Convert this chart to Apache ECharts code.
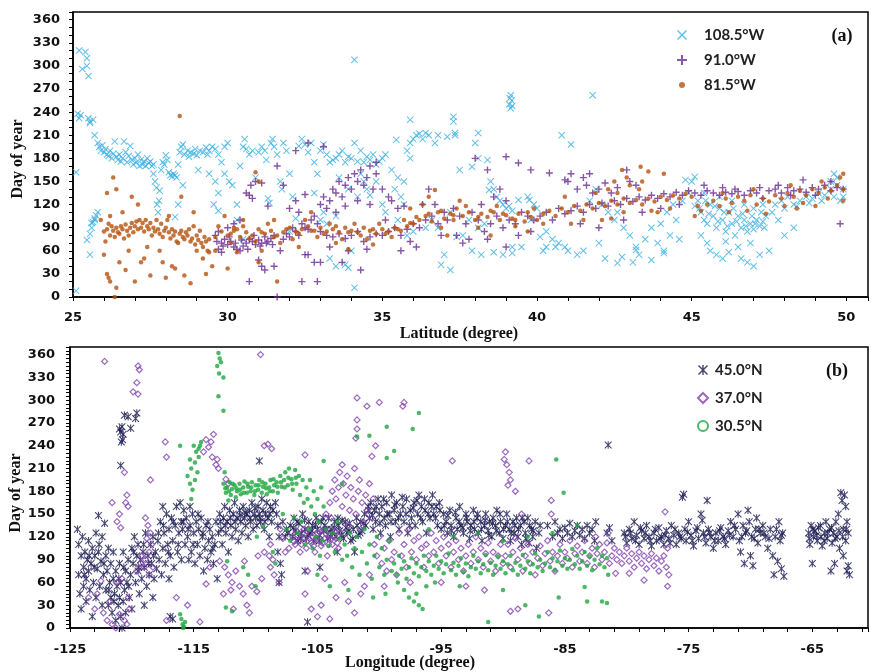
<!DOCTYPE html>
<html>
<head>
<meta charset="utf-8">
<script src="https://cdn.jsdelivr.net/npm/echarts@6/dist/echarts.min.js"></script>
<style>
  html, body { margin: 0; padding: 0; background: #fff; }
  #chart { width: 871px; height: 672px; }
</style>
</head>
<body>
<div id="chart"></div>
<script>
// panel (a): day of year vs latitude, one series per longitude
var latNames = ['108.5°W', '91.0°W', '81.5°W'];
var lonNames = ['45.0°N', '37.0°N', '30.5°N'];

var latW1085 = [
  [25.2,320],[25.4,318],[25.3,296],[25.45,310],[25.45,300],[25.5,287],[25.15,238],[25.2,232],[25.25,236],[25.5,232],[25.55,228],[25.65,230],[25.55,226],[25.7,210],[25.1,162],[25.1,8],
  [25.45,74],[25.55,82],[25.6,90],[25.65,97],[25.7,102],[25.75,106],[25.8,110],[25.55,55],[25.7,100],[25.6,96],
  [25.8,200],[25.85,195],[25.9,190],[25.95,197],[26.0,188],[26.05,192],[26.1,185],[26.15,183],[26.2,190],[26.25,180],[26.3,186],[26.35,202],[26.4,182],[26.45,178],[26.5,185],[26.55,176],[26.6,180],[26.65,202],[26.7,188],[26.75,175],[26.8,183],[26.85,196],[26.9,178],[26.95,172],[27.0,180],[27.05,175],[27.1,185],[27.15,170],[27.2,178],[27.25,172],[27.3,176],[27.35,170],[27.4,180],[27.45,174],[27.5,176],[27.55,170],[27.6,172],
  [27.6,160],[27.65,150],[27.7,142],[27.72,120],[27.75,110],[27.78,125],[27.8,138],[27.85,165],[27.9,175],[27.95,172],[28.0,184],[28.05,178],[28.1,162],[28.15,158],[28.2,156],[28.25,160],[28.3,158],[28.35,155],[28.4,172],[28.4,120],[28.3,104],[28.45,188],[28.5,195],[28.55,198],[28.55,145],
  [28.6,185],[28.7,190],[28.75,182],[28.8,188],[28.9,186],[28.95,192],[29.0,184],[29.1,190],[29.2,188],[29.3,194],[29.35,185],[29.4,190],[29.5,195],[29.6,192],[29.7,185],[29.05,165],[29.4,160],
  [29.6,150],[29.7,135],[29.55,120],[29.7,112],[29.9,195],[29.8,175],[29.9,160],[30.0,200],[30.05,150],[30.15,145],[30.3,120],[30.4,170],[30.5,195],[30.55,205],[30.6,192],[30.7,185],[30.8,190],[30.9,155],[31.0,188],[31.1,195],[31.2,190],[31.25,178],[31.3,128],[31.35,122],[31.4,200],[31.45,205],[31.5,195],[31.6,185],[31.7,150],[31.75,140],[31.8,200],[31.9,190],[32.0,160],[32.1,130],[32.2,102],[32.3,196],[32.4,205],[32.5,198],[32.6,188],[32.7,200],[32.8,175],[32.9,160],[33.0,190],[33.1,198],[33.2,185],[33.3,175],[33.1,110],[33.2,95],
  [33.5,180],[33.6,185],[33.7,190],[33.4,178],[33.8,175],[33.9,182],[34.0,180],[34.1,200],[34.2,176],[34.3,190],[34.4,175],[34.5,182],[34.6,178],[34.7,185],[34.8,172],[34.9,176],[35.0,180],[35.1,185],[34.3,160],[34.4,150],[34.5,140],[34.6,132],[34.8,150],[35.0,120],[35.1,110],[34.2,130],[33.9,140],[33.6,155],[32.8,135],[33.3,50],[33.5,40],[33.8,42],[34.0,60],[33.9,38],[34.1,12],[34.1,308],[33.0,100],[33.5,105],[32.0,85],[30.3,100],[30.5,75],
  [35.3,165],[35.5,155],[35.7,150],[35.8,190],[35.9,200],[36.0,205],[36.1,210],[36.2,212],[36.3,205],[35.9,180],[35.7,120],[35.6,130],[35.4,140],[35.5,100],[35.8,80],[36.0,85],[36.4,90],[36.6,100],[36.5,210],[36.8,210],[37.1,208],[37.3,228],[37.35,210],[37.2,110],[35.9,230],[36.7,200],[35.45,204],
  [37.4,78],[37.9,169],[38.45,139],[39.4,126],[39.75,126],[40.3,65],[40.9,65],[39.2,57],[37.2,35],[37.3,234],[37.35,213],[38.1,213],[36.4,213],
  [37.5,165],[38.0,200],[38.1,180],[38.4,178],[38.5,150],[38.6,140],[38.7,130],[38.8,125],[38.9,120],[39.0,115],[39.1,118],[39.2,112],[38.3,95],[38.1,90],[37.8,100],[37.6,80],[37.9,60],[38.2,55],[38.6,58],[38.9,55],[39.2,65],[39.5,65],[39.7,130],[39.9,120],[40.0,115],[39.8,100],[40.1,78],[40.2,60],[39.1,250],[39.12,258],[39.15,262],[39.18,255],[39.2,248],[39.15,245],[37.0,55],[36.9,42],[36.8,90],
  [40.3,85],[40.5,75],[40.7,70],[40.6,65],[40.8,210],[41.1,198],[41.0,60],[41.3,55],[41.5,60],[41.8,262],[41.7,125],[41.9,140],[42.1,120],[42.3,110],[42.5,100],[42.6,110],[42.8,90],[43.0,80],[43.2,65],[43.3,55],[43.5,75],[43.7,90],[43.9,70],[44.0,95],[44.2,110],[44.4,120],[44.5,100],[44.7,125],[44.9,135],[45.0,150],[42.2,50],[42.0,70],[43.1,45],[44.1,60],[44.6,75],[44.3,80],
  [42.6,44],[42.75,52],[43.2,61],[43.7,48],[44.1,57],[44.8,152],[45.1,156],
  [45.2,125],[45.3,110],[45.4,100],[45.5,95],[45.6,120],[45.7,105],[45.8,90],[45.9,115],[46.0,100],[46.1,85],[46.2,110],[46.3,95],[46.4,80],[46.5,105],[46.6,90],[46.7,100],[46.8,85],[46.9,95],[47.0,88],[47.1,100],[47.2,92],[47.3,98],[47.4,105],[45.3,80],[45.5,70],[45.6,60],[45.8,55],[46.0,50],[46.2,58],[46.5,65],[46.6,50],[46.8,45],[47.0,40],[47.2,55],[47.5,60],[45.9,130],[46.3,125],[46.7,120],[47.0,115],[47.3,120],[45.4,135],[45.1,118],[46.1,72],[46.9,70],[47.6,110],[47.8,100],[48.0,80],[48.3,90],
  [45.25,115],[45.55,108],[45.85,98],[46.15,92],[46.45,98],[46.75,92],[47.05,95],[47.35,90],[45.45,125],[45.75,118],[46.05,110],[46.35,115],[46.65,108],[46.95,105],[47.25,110],
  [47.7,120],[47.9,125],[48.1,130],[48.3,120],[48.5,125],[48.7,130],[48.9,128],[49.1,135],[49.3,132],[49.5,140],[49.7,145],[49.9,140],[48.0,115],[48.4,118],[48.8,122],[49.2,125],[49.6,130],[49.8,125],[49.5,150],[49.6,160],[49.7,155],[49.9,130]
];

var latW910 = [
  [29.6,80],[29.7,85],[29.8,70],[29.9,75],[30.0,68],[30.1,72],[30.2,65],[30.3,62],[30.4,60],[30.5,66],[30.6,70],[30.7,75],[30.8,72],[30.9,68],[31.0,74],[31.1,70],[31.2,78],[31.3,72],[31.4,76],[31.5,80],[29.7,62],[29.8,58],[30.0,90],[30.2,95],[30.4,100],[30.6,135],[30.7,132],[30.8,128],[30.75,145],[30.9,150],[31.1,148],[31.3,118],[31.0,48],[31.1,40],[31.2,35],[30.7,20],[31.6,0],[31.5,40],
  [29.65,72],[29.85,66],[30.05,78],[30.25,70],[30.45,74],[30.65,62],[30.85,80],[31.05,66],[31.25,70],[31.45,68],
  [31.7,60],[31.8,75],[31.9,82],[32.0,78],[32.1,90],[32.2,85],[32.3,80],[32.4,95],[32.5,90],[32.6,88],[32.7,100],[32.8,105],[32.9,95],[32.0,115],[32.2,125],[32.3,110],[31.8,145],[32.5,133],[32.6,200],[32.4,20],[32.9,20],[32.2,190],[31.6,170],[32.8,45],[32.5,55],
  [33.0,120],[33.1,130],[33.2,115],[33.3,125],[33.4,140],[33.5,135],[33.6,150],[33.7,130],[33.8,145],[33.9,155],[34.0,140],[34.1,160],[34.2,150],[34.3,165],[34.4,145],[34.5,155],[34.6,170],[34.7,140],[34.8,160],[33.5,110],[33.8,118],[34.2,125],[34.6,120],[33.1,195],[34.8,175],[35.0,140],[35.2,130],
  [33.0,85],[33.2,80],[33.4,78],[33.6,82],[33.8,76],[34.0,80],[34.2,85],[34.4,72],[34.6,78],[34.8,82],[35.0,80],[33.3,65],[33.9,60],[34.5,62],[33.7,45],[34.3,35],[32.6,55],[33.0,45],
  [35.2,85],[35.4,90],[35.6,80],[35.8,88],[36.0,95],[36.2,90],[36.4,100],[36.6,105],[36.8,95],[37.0,110],[35.3,125],[35.5,115],[35.7,118],[35.9,72],[36.1,65],[36.3,120],[36.5,140],[36.7,120],[36.9,80],[35.1,100],[35.6,60],
  [37.1,100],[37.3,115],[37.5,105],[37.7,95],[37.9,110],[38.1,100],[38.3,85],[38.5,95],[38.7,105],[38.9,90],[39.1,100],[39.3,95],[39.5,110],[39.7,105],[39.9,100],[37.4,80],[37.8,75],[38.2,120],[38.6,130],[39.0,125],[39.4,80],[39.8,85],[38.0,180],[38.4,165],[38.8,140],[39.0,182],[39.4,174],[39.8,165],[40.4,161],[40.9,152],[41.0,150],[41.1,160],[41.3,140],[41.5,155],[41.6,145],[41.7,160],[41.8,135],[37.6,70],[39.0,65],[38.4,75],
  [40.1,105],[40.3,110],[40.5,100],[40.7,115],[40.9,108],[41.1,112],[41.3,118],[41.5,110],[41.7,120],[41.9,115],[42.1,122],[42.3,118],[42.5,125],[42.7,120],[42.9,128],[43.1,124],[43.3,130],[43.5,126],[43.7,132],[43.9,128],[44.1,134],[44.3,130],[44.5,136],[44.7,132],[44.9,138],[42.0,140],[42.2,148],[42.4,135],[42.6,142],[43.0,150],[43.2,145],[42.8,100],[43.4,110],[44.0,115],[44.6,120],[42.9,165],[41.4,95],[42.0,90],
  [45.1,135],[45.3,132],[45.5,138],[45.7,135],[45.9,132],[46.1,136],[46.3,134],[46.5,137],[46.7,132],[46.9,138],[47.1,135],[47.3,128],[47.5,138],[47.7,140],[47.9,135],[48.1,142],[48.3,138],[48.5,140],[48.7,136],[48.9,142],[49.1,140],[49.3,145],[49.5,138],[49.7,142],[49.9,140],[46.4,140],[47.2,142],[48.2,132],[49.0,132],[49.8,95],[45.4,145],[46.0,142],[48.6,152],[49.5,150],[47.8,145]
];

var latW815 = [
  [25.9,100],[26.0,85],[26.05,72],[26.1,88],[26.15,95],[26.2,80],[26.25,92],[26.3,86],[26.35,78],[26.4,90],[26.45,84],[26.5,82],[26.55,92],[26.6,88],[26.65,76],[26.7,94],[26.75,86],[26.8,80],[26.85,90],[26.9,96],[26.95,84],[27.0,92],[27.05,98],[27.1,88],[27.15,100],[27.2,90],[27.25,96],[27.3,85],[27.35,100],[27.4,92],[27.45,88],[27.5,96],[27.55,80],[27.6,90],[27.65,85],[27.7,100],[27.75,88],[27.8,82],[27.85,95],[27.9,78],[27.95,86],[28.0,90],[28.05,100],[28.1,84],[28.15,76],[28.2,88],[28.25,80],[28.3,85],[28.35,72],[28.4,70],[28.45,82],[28.5,86],[28.55,78],[28.6,75],[28.65,84],[28.7,80],[28.75,88],[28.8,72],[28.85,76],[28.9,92],[28.95,68],[29.0,80],[29.05,74],[29.1,86],[29.15,70],[29.2,65],[29.25,78],[29.3,72],[29.35,60],[29.4,75],
  [26.0,55],[26.1,135],[26.2,105],[26.3,155],[26.4,140],[26.1,30],[26.15,25],[26.2,20],[26.4,12],[26.35,0],[26.6,110],[26.9,130],[26.8,60],[27.0,20],[27.2,45],[27.3,50],[27.5,28],[27.4,65],[27.8,60],[27.9,45],[28.0,25],[28.2,40],[28.3,37],[28.1,105],[28.6,28],[28.8,18],[29.0,60],[29.2,50],[29.4,58],[28.45,235],[28.5,130],[28.9,110],[27.1,120],[26.5,45],[26.7,35],[29.3,30],[29.6,60],[29.5,40],[30.0,37],[30.2,90],[30.5,100],[30.9,162],[31.0,150],[31.6,20],[31.0,45],
  [29.6,78],[29.8,85],[30.0,80],[30.2,86],[30.4,78],[30.6,84],[30.8,80],[31.0,88],[31.2,82],[31.4,86],[31.6,80],[31.8,84],[32.0,90],[32.2,85],[32.4,88],[32.6,92],[32.8,86],[33.0,90],[33.2,85],[33.4,88],[33.6,84],[33.8,90],[34.0,86],[34.2,84],[34.4,90],[34.6,86],[34.8,82],[35.0,88],[35.2,85],[35.4,90],[35.6,86],[35.8,92],[29.7,92],[30.1,70],[30.5,92],[30.9,72],[31.3,95],[31.7,70],[32.1,75],[32.5,100],[32.9,78],[33.3,95],[33.7,75],[34.1,95],[34.5,75],[34.9,95],[35.3,78],[35.7,100],[29.9,105],[31.1,60],[32.3,65],[33.5,70],[34.7,68],[33.9,62],[32.7,110],[31.5,100],[30.3,58],
  [30.1,82],[30.3,88],[30.7,76],[31.1,84],[31.5,78],[31.9,88],[32.3,82],[32.7,86],[33.1,82],[33.5,92],[33.9,84],[34.3,80],[34.7,88],[35.1,82],[35.5,88],[35.9,96],
  [36.0,95],[36.2,100],[36.4,105],[36.6,98],[36.8,110],[37.0,102],[37.2,108],[37.4,115],[37.6,105],[37.8,110],[38.0,100],[38.2,108],[38.4,104],[38.6,110],[38.8,100],[39.0,106],[39.2,102],[39.4,108],[39.6,98],[39.8,104],[40.0,100],[36.3,120],[36.9,90],[37.5,125],[38.1,90],[38.7,118],[39.3,92],[39.9,115],[37.1,80],[35.9,115],[36.5,130],[36.7,139],[40.2,95],[38.5,80],[39.7,85],[37.3,100],
  [36.1,104],[36.5,108],[36.9,112],[37.3,106],[37.7,118],[38.1,104],[38.5,112],[38.9,108],[39.3,100],[39.7,110],
  [40.2,108],[40.4,112],[40.6,105],[40.8,115],[41.0,110],[41.2,118],[41.4,112],[41.6,120],[41.8,115],[42.0,122],[42.2,118],[42.4,125],[42.6,120],[42.8,128],[43.0,122],[43.2,126],[43.4,120],[43.6,128],[43.8,124],[44.0,130],[44.2,126],[44.4,132],[44.6,128],[44.8,134],[45.0,130],
  [42.3,140],[42.5,150],[42.75,165],[42.9,155],[43.35,169],[43.0,145],[43.4,150],[43.6,163],[42.6,135],[43.3,140],[41.1,95],[41.5,100],[42.1,100],[43.9,110],[44.3,115],[42.8,110],[43.7,112],[40.9,130],[41.9,135],[45.1,105],[45.3,112],[45.2,118],[42.4,102],[44.1,160],
  [45.5,120],[45.7,125],[45.9,118],[46.1,128],[46.3,122],[46.5,130],[46.7,125],[46.9,132],[47.1,120],[47.3,128],[47.5,124],[47.7,132],[47.9,128],[48.1,135],[48.3,130],[48.5,138],[48.7,132],[48.9,140],[49.1,135],[49.3,142],[49.5,138],[49.7,145],[49.9,140],[46.2,110],[46.8,112],[47.4,108],[48.0,118],[48.6,122],[49.2,150],[49.8,155],[49.4,128],[47.0,140],[48.2,145],[46.0,135],[49.0,118],[48.4,115],[49.9,160],[49.9,125]
];

// panel (b): day of year vs longitude, one series per latitude
var lonN450 = [
  [-124.4,130],[-124.3,110],[-124.3,70],[-124.2,45],[-124.1,95],[-124.1,25],[-124.0,120],[-123.9,80],[-123.9,55],[-123.8,100],[-123.7,65],[-123.7,35],[-123.6,90],[-123.5,75],[-123.5,115],[-123.4,50],[-123.3,85],[-123.2,15],[-123.2,105],[-123.1,60],[-123.0,95],[-122.9,40],[-122.9,125],[-122.8,78],[-122.7,148],[-122.7,100],[-122.6,55],[-122.5,88],[-122.4,30],[-122.4,120],[-122.3,70],[-122.2,138],[-122.1,95],[-122.1,50],[-122.0,75],[-121.9,105],[-121.9,30],
  [-121.8,60],[-121.7,85],[-121.7,40],[-121.6,20],[-121.5,65],[-121.5,100],[-121.4,45],[-121.3,75],[-121.3,10],[-121.2,55],[-121.1,30],[-121.0,85],[-121.0,40],[-120.9,15],[-120.9,60],[-120.8,0],[-120.7,35],[-120.7,100],[-120.6,50],[-120.5,75],[-120.5,20],[-120.4,60],[-120.3,90],[-120.2,40],[-120.1,70],[-120.0,105],[-120.0,25],
  [-121.0,262],[-120.9,258],[-120.8,265],[-120.7,255],[-120.85,245],[-120.6,280],[-120.3,278],[-120.1,263],[-119.6,283],[-119.7,276],[-120.9,214],[-120.75,248],
  [-119.9,85],[-119.8,120],[-119.7,60],[-119.6,95],[-119.5,75],[-119.5,110],[-119.4,45],[-119.3,90],[-119.2,65],[-119.1,100],[-119.0,30],[-119.0,80],[-118.9,125],[-118.8,55],[-118.7,95],[-118.6,70],[-118.5,110],[-118.4,85],[-118.3,40],[-118.3,120],[-118.2,65],[-118.1,100],[-118.0,78],
  [-117.9,115],[-117.8,90],[-117.7,140],[-117.6,70],[-117.5,160],[-117.5,105],[-117.4,125],[-117.3,85],[-117.2,150],[-117.1,110],[-117.0,65],[-117.0,130],[-116.9,95],[-116.8,145],[-116.7,115],[-116.6,80],[-116.5,135],[-116.4,160],[-116.3,100],[-116.2,125],[-116.1,165],[-116.0,140],[-116.0,90],[-116.9,15],[-116.7,12],
  [-115.9,130],[-115.8,155],[-115.7,110],[-115.6,145],[-115.5,120],[-115.4,90],[-115.3,160],[-115.3,135],[-115.2,100],[-115.1,150],[-115.0,125],[-114.9,85],[-114.8,140],[-114.7,110],[-114.6,130],[-114.5,95],[-114.4,145],[-114.3,120],[-114.2,75],[-114.1,105],[-114.0,135],[-113.9,90],[-113.8,115],[-113.7,130],[-113.6,100],[-113.5,120],[-113.4,85],[-113.3,110],[-113.2,140],[-113.1,65],[-113.0,125],
  [-123.85,70],[-123.45,95],[-123.05,80],[-122.65,110],[-122.25,85],[-121.85,50],[-121.45,35],[-121.05,65],[-120.65,80],[-120.25,55],[-119.85,100],[-119.45,80],[-119.05,110],[-118.65,85],[-118.25,95],[-117.85,125],[-117.45,135],[-117.05,100],[-116.65,140],[-116.25,110],[-115.85,140],[-115.45,130],[-115.05,110],[-114.65,150],[-114.25,125],[-113.85,140],[-113.45,105],
  [-112.9,150],[-112.8,130],[-112.7,110],[-112.6,145],[-112.5,160],[-112.4,125],[-112.3,140],[-112.2,100],[-112.1,155],[-112.0,135],[-111.9,120],[-111.8,150],[-111.7,165],[-111.6,130],[-111.5,145],[-111.4,115],[-111.3,155],[-111.2,140],[-111.1,125],[-111.0,160],[-110.9,145],[-110.8,135],[-110.7,150],[-110.6,120],[-110.5,155],[-110.4,140],[-110.3,165],[-110.2,130],[-110.1,150],[-110.0,145],[-109.9,135],[-109.8,160],[-109.7,150],[-109.7,220],[-109.6,140],[-109.5,170],[-109.4,155],[-109.3,130],[-109.2,150],[-109.1,165],[-109.0,145],[-108.9,120],[-108.8,160],[-108.7,140],[-108.6,155],
  [-112.85,140],[-112.45,135],[-112.05,145],[-111.65,140],[-111.25,148],[-110.85,152],[-110.45,145],[-110.05,158],[-109.65,145],[-109.25,140],[-108.85,150],
  [-108.4,165],[-108.3,150],[-108.2,135],[-108.1,120],[-108.2,100],[-108.0,85],[-107.9,70],[-108.1,60],[-107.8,140],[-107.6,120],[-107.5,130],[-107.4,125],[-105.8,8],
  [-107.2,135],[-107.0,120],[-106.9,145],[-106.8,128],[-106.6,115],[-106.5,138],[-106.3,125],[-106.2,150],[-106.0,130],[-105.9,118],[-105.7,140],[-105.6,125],[-105.4,135],[-105.3,115],[-105.1,145],[-105.0,130],[-104.8,122],[-104.7,140],[-104.5,128],[-104.4,135],[-104.2,118],[-104.1,145],[-103.9,130],[-103.8,125],[-103.6,140],[-103.5,120],[-103.3,135],[-103.2,128],[-103.0,142],[-102.9,118],[-102.7,132],[-102.6,125],[-102.4,138],[-102.3,115],[-102.1,130],[-102.0,100],[-101.8,135],[-101.7,122],[-101.5,140],[-101.4,128],[-101.2,150],[-101.1,135],[-100.9,160],[-104.8,80],[-106.0,75],[-103.4,100],
  [-106.95,132],[-106.65,140],[-106.35,118],[-106.05,142],[-105.75,122],[-105.45,128],[-105.15,136],[-104.85,115],[-104.55,145],[-104.25,130],[-103.95,120],[-103.65,132],[-103.35,145],[-103.05,122],[-102.75,140],[-102.45,128],[-102.15,118],[-101.85,145],[-101.55,125],[-101.25,138],
  [-100.8,145],[-100.7,165],[-100.5,130],[-100.4,155],[-100.3,140],[-100.1,170],[-100.0,150],[-99.9,125],[-99.8,160],[-99.6,145],[-99.5,135],[-99.4,165],[-99.2,150],[-99.1,120],[-99.0,175],[-98.8,155],[-98.7,140],[-98.6,165],[-98.4,130],[-98.3,150],[-98.1,160],[-98.0,140],[-97.8,170],[-97.7,125],[-97.5,155],[-97.4,145],[-97.2,165],[-97.1,135],[-96.9,150],[-96.8,175],[-96.6,160],[-96.5,140],[-96.3,155],[-96.2,125],[-96.0,165],[-95.9,145],[-95.7,175],[-95.6,150],[-95.4,160],[-95.3,135],[-95.1,155],[-95.0,130],[-94.8,150],
  [-100.85,155],[-100.55,148],[-100.25,160],[-99.95,138],[-99.65,170],[-99.35,150],[-99.05,140],[-98.75,162],[-98.45,145],[-98.15,172],[-97.85,150],[-97.55,135],[-97.25,158],[-96.95,168],[-96.65,145],[-96.35,170],[-96.05,150],[-95.75,160],[-95.45,145],[-95.15,165],
  [-94.6,140],[-94.5,125],[-94.3,155],[-94.2,135],[-94.0,120],[-93.8,145],[-93.7,130],[-93.5,160],[-93.4,135],[-93.2,125],[-93.0,150],[-92.9,140],[-92.7,118],[-92.6,135],[-92.4,155],[-92.3,130],[-92.1,145],[-92.0,125],[-91.8,140],[-91.7,115],[-91.5,135],[-91.4,150],[-91.2,128],[-91.1,140],[-90.9,120],[-90.8,145],[-90.6,135],[-90.5,155],[-90.3,125],[-90.2,140],[-90.0,118],[-89.8,135],[-89.7,150],[-89.5,130],[-89.4,115],[-89.2,140],[-89.1,125],[-88.9,145],[-88.8,120],[-88.6,135],[-88.5,110],[-88.3,140],[-88.2,125],[-88.0,145],[-87.9,112],[-87.7,130],[-87.6,120],[-87.4,140],[-87.3,105],[-87.1,125],[-87.0,135],
  [-94.75,135],[-94.45,148],[-94.15,128],[-93.85,152],[-93.55,140],[-93.25,132],[-92.95,145],[-92.65,128],[-92.35,140],[-92.05,150],[-91.75,130],[-91.45,142],[-91.15,122],[-90.85,138],[-90.55,128],[-90.25,150],[-89.95,130],[-89.65,140],[-89.35,125],[-89.05,135],[-88.75,130],[-88.45,145],[-88.15,118],[-87.85,135],[-87.55,128],
  [-86.4,135],[-86.0,120],[-85.8,140],[-85.6,125],[-85.4,130],[-85.2,118],[-85.0,132],[-84.8,125],[-84.6,138],[-84.4,120],[-84.2,128],[-84.0,135],[-83.8,122],[-83.6,130],[-83.4,118],[-83.2,135],[-83.0,125],[-82.8,130],[-82.6,115],[-82.5,140],[-81.5,241],[-81.6,125],[-81.4,132],[-81.2,115],
  [-80.2,125],[-80.0,112],[-79.8,130],[-79.6,118],[-79.4,140],[-79.2,122],[-79.0,110],[-78.8,128],[-78.6,118],[-78.4,135],[-78.2,120],[-78.0,108],[-77.8,125],[-77.6,115],[-77.4,132],[-77.2,120],[-77.0,110],[-76.8,128],[-76.6,118],[-76.4,135],[-76.2,122],[-76.0,110],[-75.8,125],[-75.6,118],[-75.5,172],[-75.4,176],[-75.3,130],[-75.2,115],[-75.0,140],[-74.8,122],[-74.6,108],[-74.4,128],[-74.2,118],[-74.0,150],[-73.9,142],[-73.8,125],[-73.6,112],[-73.5,168],[-73.4,130],[-73.2,120],[-73.0,105],[-72.8,125],[-72.6,115],[-72.4,132],[-72.2,120],[-72.0,110],[-71.8,128],[-71.6,140],[-71.4,120],[-71.2,130],[-71.0,150],[-70.9,115],[-70.8,100],[-70.6,135],[-70.5,85],[-70.4,125],[-70.2,155],[-70.1,140],[-70.0,95],[-69.9,120],[-69.8,82],[-69.6,130],[-69.5,145],[-69.4,112],[-69.2,125],[-69.0,135],[-68.8,120],[-68.6,105],[-68.4,130],[-68.2,95],[-68.1,70],[-68.0,120],[-67.8,88],[-67.7,140],[-67.6,115],[-67.5,78],[-67.4,125],[-67.3,68],
  [-80.1,120],[-79.7,125],[-79.3,115],[-78.9,132],[-78.5,125],[-78.1,115],[-77.7,130],[-77.3,118],[-76.9,122],[-76.5,112],[-76.1,130],[-75.7,120],[-75.1,126],[-74.7,115],[-74.3,132],[-73.7,120],[-73.3,125],[-72.9,115],[-72.5,128],[-72.1,118],[-71.7,122],[-71.3,135],[-70.7,120],[-70.3,128],[-69.7,118],[-69.3,130],[-68.9,125],[-68.5,118],[-67.9,130],[-67.5,122],
  [-65.3,125],[-65.2,110],[-65.1,135],[-65.0,85],[-64.9,120],[-64.8,128],[-64.6,115],[-64.5,132],[-64.3,120],[-64.2,108],[-64.0,125],[-63.9,140],[-63.8,118],[-63.6,130],[-63.5,75],[-63.4,112],[-63.3,125],[-63.2,85],[-63.1,140],[-63.0,120],[-62.9,150],[-62.8,105],[-62.7,178],[-62.6,168],[-62.5,130],[-62.5,95],[-62.4,175],[-62.3,160],[-62.3,115],[-62.2,140],[-62.2,75],[-62.1,125],[-62.1,82],[-62.0,70],
  [-65.25,118],[-64.95,130],[-64.65,122],[-64.35,135],[-64.05,115],[-63.75,125],[-63.45,132],[-63.15,118],[-62.85,128],[-62.55,120],[-62.25,130]
];

var lonN370 = [
  [-122.2,351],[-119.5,345],[-119.4,340],[-119.9,311],[-119.5,308],[-119.6,323],[-120.6,205],[-120.4,175],[-120.5,165],[-120.3,160],[-121.0,150],[-121.2,140],[-120.9,132],[-121.6,165],[-118.5,195],
  [-118.9,145],[-118.7,135],[-118.5,125],[-118.8,118],[-118.4,110],[-118.6,100],[-118.9,90],[-118.3,80],[-118.6,70],
  [-122.3,20],[-122.0,10],[-121.6,5],[-121.3,0],[-121.0,18],[-120.6,10],[-120.4,5],[-120.2,25],[-121.8,35],[-121.2,60],[-120.8,65],[-120.3,40],[-122.5,62],[-122.8,45],[-123.5,40],[-123.0,25],[-119.6,75],[-119.3,85],[-119.0,80],[-119.2,95],
  [-117.3,245],[-117.2,225],[-116.4,40],[-117.2,10],[-115.5,30],[-114.5,8],[-114.0,58],[-113.7,80],
  [-114.0,248],[-113.6,245],[-113.4,255],[-113.8,238],[-114.2,232],[-113.5,225],[-113.2,215],[-113.0,210],[-113.1,222],[-112.4,196],[-112.2,190],
  [-112.9,88],[-112.5,80],[-112.2,70],[-111.9,60],[-111.6,75],[-111.3,55],[-111.0,45],[-110.7,30],[-110.5,20],[-111.8,25],[-112.6,45],[-112.0,50],[-110.3,55],[-109.9,48],[-109.5,65],[-110.9,88],[-109.8,95],[-109.3,100],[-108.8,80],[-108.5,70],[-108.1,60],[-108.6,90],
  [-109.6,360],[-109.3,240],[-109.0,242],[-108.7,236],[-108.8,110],[-108.9,95],
  [-107.0,120],[-106.8,110],[-106.7,128],[-106.5,115],[-106.4,100],[-106.2,125],[-106.0,118],[-105.9,105],[-105.7,130],[-105.5,112],[-105.4,120],[-105.2,100],[-105.0,125],[-104.9,115],[-104.7,108],[-104.5,130],[-104.4,118],[-104.2,95],[-104.0,122],[-103.8,110],[-103.6,128],[-103.5,118],[-103.3,105],[-103.1,125],[-107.3,105],[-108.0,130],[-107.8,118],[-107.6,100],
  [-106.9,114],[-106.6,122],[-106.3,110],[-106.1,130],[-105.8,115],[-105.6,124],[-105.3,108],[-105.1,118],[-104.8,126],[-104.6,112],[-104.3,124],[-104.1,110],[-103.9,118],[-103.7,122],[-103.4,112],
  [-104.0,165],[-103.8,180],[-103.6,195],[-103.5,170],[-103.3,185],[-103.2,205],[-103.0,160],[-102.9,190],[-102.7,175],[-102.6,200],[-102.4,155],[-102.3,185],[-102.1,170],[-102.0,210],[-101.9,150],[-101.7,180],[-101.6,195],[-101.4,165],[-101.3,140],[-101.1,175],[-101.0,155],[-100.8,190],[-100.6,145],[-100.5,170],[-103.9,145],[-102.5,135],[-101.5,130],[-104.3,150],[-103.0,215],
  [-101.8,303],[-101.0,292],[-100.0,297],[-101.8,274],[-101.8,262],[-101.9,250],[-98.0,297],[-98.1,292],[-94.1,220],[-106.0,228],[-100.6,226],[-100.3,240],
  [-100.4,110],[-100.2,95],[-100.0,120],[-99.8,85],[-99.6,105],[-99.4,75],[-99.2,115],[-99.0,90],[-98.8,100],[-98.6,70],[-98.4,125],[-98.2,95],[-98.0,110],[-97.8,80],[-97.6,130],[-97.4,100],[-97.2,115],[-97.0,90],[-96.8,120],[-96.6,105],[-96.4,80],[-96.2,110],[-96.0,95],[-95.8,125],[-95.6,100],[-95.4,115],[-95.2,85],[-95.0,105],[-94.8,120],[-94.6,95],[-94.4,110],[-94.2,80],[-94.0,100],[-93.8,115],[-93.6,90],[-93.4,105],[-93.2,75],[-93.0,95],[-92.8,110],[-92.6,85],[-92.4,100],[-92.2,120],[-92.0,90],[-91.8,105],[-91.6,80],[-91.4,98],[-91.2,112],[-91.0,88],[-90.8,100],[-90.6,75],[-90.4,95],[-90.2,110],[-90.0,85],
  [-106.0,45],[-105.5,25],[-105.0,15],[-104.7,30],[-104.0,12],[-103.5,40],[-102.5,35],[-102.0,20],[-101.5,45],[-101.2,55],[-100.8,70],[-102.8,60],[-104.4,65],[-105.8,75],[-99.6,55],[-97.5,60],[-89.4,22],[-88.8,25],[-86.3,20],[-95.0,60],[-93.0,55],[-91.5,50],
  [-89.9,222],[-89.7,215],[-89.5,205],[-89.4,195],[-89.6,188],[-89.8,232],[-87.9,220],[-86.1,168],[-86.1,150],[-88.5,150],[-89.0,180],
  [-89.8,95],[-89.6,110],[-89.4,80],[-89.2,100],[-89.0,118],[-88.8,90],[-88.6,105],[-88.4,75],[-88.2,95],[-88.0,110],[-87.8,85],[-87.6,100],[-87.4,70],[-87.2,92],[-87.0,108],[-86.8,82],[-86.6,98],[-86.4,115],[-86.2,88],[-86.0,100],[-85.8,75],[-85.6,95],[-85.4,110],[-85.2,85],[-85.0,100],[-84.8,92],[-84.6,115],[-84.4,80],[-84.2,98],[-84.0,108],[-83.8,88],[-83.6,100],[-83.4,115],[-83.2,85],[-83.0,95],[-82.8,105],[-82.6,80],[-82.4,98],[-82.2,110],[-82.0,90],[-81.8,100],[-81.6,112],[-81.4,85],[-81.2,95],[-81.0,105],[-80.8,90],[-80.6,100],[-80.4,85],[-80.2,95],[-80.0,105],[-79.8,88],[-79.6,98],[-79.4,80],[-79.2,92],[-79.0,100],[-78.8,85],[-78.6,95],[-78.4,78],[-78.2,90],[-78.0,98],[-77.8,82],[-77.6,92],[-77.4,75],[-77.2,88],[-77.0,95],[-76.8,80],[-76.7,105],[-76.6,70],[-76.9,153],[-76.7,55],[-78.6,63],[-79.8,72],[-80.9,72],[-82.5,120],[-81.5,125]
];

var lonN305 = [
  [-116.0,12],[-115.9,5],[-115.8,2],[-116.1,18],[-115.7,8],[-115.85,0],[-116.1,240],[-115.0,240],[-114.8,232],[-114.6,225],[-114.9,218],[-115.2,210],[-115.5,200],[-115.3,190],[-115.1,182],[-114.7,205],[-114.5,240],[-114.4,245],[-114.6,236],[-115.3,222],[-114.9,195],[-115.2,170],
  [-113.0,362],[-112.9,355],[-112.8,350],[-113.1,345],[-112.95,335],[-113.0,305],[-112.6,286],[-112.6,330],
  [-112.6,190],[-112.4,178],[-112.3,185],[-112.1,192],[-112.0,175],[-111.9,183],[-111.7,188],[-111.6,172],[-111.5,180],[-111.3,190],[-111.2,176],[-111.0,185],[-110.9,193],[-110.7,178],[-110.6,186],[-110.4,180],[-110.3,192],[-110.1,175],[-110.0,188],[-109.8,182],[-109.7,195],[-109.5,178],[-109.4,186],[-109.2,190],[-109.1,176],[-108.9,185],[-108.8,195],[-108.6,180],[-108.5,188],[-108.3,192],[-108.2,178],[-108.0,200],[-107.9,186],[-107.7,195],[-107.6,205],[-107.4,188],[-107.3,210],[-107.1,196],[-107.0,182],[-106.8,208],[-106.7,190],[-106.5,200],[-106.4,175],[-106.2,195],[-106.1,165],[-105.9,185],[-105.8,170],[-105.6,195],[-105.5,160],[-105.3,180],[-105.2,150],[-105.0,170],[-104.9,140],[-104.7,185],[-104.5,160],[-112.5,205],[-112.2,168],
  [-112.45,184],[-112.15,180],[-111.85,190],[-111.55,184],[-111.25,182],[-110.95,178],[-110.65,190],[-110.35,185],[-110.05,180],[-109.75,188],[-109.45,192],[-109.15,184],[-108.85,180],[-108.55,196],[-108.25,186],[-107.95,192],[-107.65,185],[-107.35,198],[-107.05,190],[-106.75,198],
  [-112.3,88],[-111.0,80],[-110.6,70],[-112.4,27],[-111.9,22],[-109.4,133],[-109.9,120],[-108.6,100],[-108.4,85],[-107.8,150],[-107.5,130],[-107.2,115],[-106.9,145],[-106.6,125],[-106.3,140],[-106.0,110],[-105.7,130],[-105.4,105],[-105.1,120],[-104.8,95],[-104.6,115],[-104.3,130],[-104.1,108],[-103.8,125],[-103.6,100],[-103.4,140],[-103.2,118],[-103.0,90],
  [-102.8,110],[-102.6,95],[-102.4,125],[-102.2,80],[-102.0,105],[-101.8,120],[-101.6,70],[-101.4,100],[-101.2,130],[-101.0,85],[-100.8,110],[-100.6,65],[-100.4,95],[-100.2,120],[-100.0,80],[-99.8,105],[-99.6,70],[-99.4,90],[-99.2,115],[-99.0,75],
  [-98.8,85],[-98.6,70],[-98.4,95],[-98.2,78],[-98.0,88],[-97.8,65],[-97.6,80],[-97.4,92],[-97.2,72],[-97.0,85],[-96.8,68],[-96.6,80],[-96.4,95],[-96.2,75],[-96.0,88],[-95.8,70],[-95.6,82],[-95.4,95],[-95.2,78],[-95.0,88],[-94.8,72],[-94.6,84],[-94.4,98],[-94.2,76],[-94.0,86],[-93.8,70],[-93.6,82],[-93.4,92],[-93.2,74],[-93.0,85],[-92.8,68],[-92.6,80],[-92.4,95],[-92.2,78],[-92.0,88],[-91.8,72],[-91.6,84],[-91.4,96],[-91.2,76],[-91.0,86],[-90.8,70],[-90.6,82],[-90.4,94],[-90.2,78],[-90.0,88],[-89.8,72],[-89.6,84],[-89.4,95],[-89.2,76],[-89.0,86],[-88.8,70],[-88.6,82],[-88.4,96],[-88.2,78],[-88.0,88],[-87.8,72],[-87.6,84],[-87.4,98],[-87.2,80],[-87.0,90],[-86.8,75],[-86.6,85],[-86.4,100],[-86.2,80],[-86.0,92],[-85.8,76],[-85.6,88],[-85.4,102],[-85.2,82],[-85.0,92],[-84.8,78],[-84.6,90],[-84.4,104],[-84.2,84],[-84.0,95],[-83.8,78],[-83.6,88],[-83.4,100],[-83.2,82],[-83.0,94],[-82.8,76],[-82.6,90],[-82.4,105],[-82.2,84],[-82.0,95],[-81.8,80],[-81.6,92],[-81.5,70],
  [-98.5,60],[-98.0,50],[-97.6,40],[-97.2,35],[-96.8,30],[-96.5,25],[-97.0,45],[-96.2,55],[-91.2,8],[-88.2,30],[-87.1,15],[-85.5,40],[-83.2,35],[-81.6,33],[-82.0,35],[-83.4,54],[-95.5,60],[-93.5,55],[-90.0,50],[-99.5,45],[-100.5,40],[-102.5,50],[-104.0,55],[-105.0,70],[-110.0,55],
  [-101.8,252],[-99.4,265],[-97.3,262],[-96.8,283],[-98.8,233],[-85.7,222],[-85.1,178],[-99.4,224],[-100.8,253],[-104.5,220],[-103.0,190],[-96.0,130],[-94.0,120],[-92.0,125],[-90.0,115],[-88.0,120],[-86.0,125],[-84.0,135]
];

// marker shapes
var crossPath = 'path://M0,1L1,0L5,4L9,0L10,1L6,5L10,9L9,10L5,6L1,10L0,9L4,5Z';
var plusPath = 'path://M4,0H6V4H10V6H6V10H4V6H0V4H4Z';
var starPath = 'path://M4.3,0H5.7V10H4.3Z M0,1L1,0L5,4L9,0L10,1L6,5L10,9L9,10L5,6L1,10L0,9L4,5Z';
// small dot inside a 10x10 box, so the legend icon stays small
var smallDotPath = 'path://M0,0ZM10,10ZM2,5A3,3,0,1,0,8,5A3,3,0,1,0,2,5Z';

var colors = ['#3aaee0', '#6a2c91', '#b5520f', '#16164f', '#8244ad', '#1fa640'];

var tickFont = { fontFamily: 'DejaVu Sans', fontWeight: 'bold', fontSize: 13, color: '#111' };

function valueAxis(extra) {
    var ax = {
        type: 'value',
        axisLine: { show: true, onZero: false, lineStyle: { color: '#000', width: 1.5 } },
        axisTick: { show: true, length: 4, lineStyle: { color: '#000', width: 1 } },
        splitLine: { show: false },
        axisLabel: tickFont
    };
    for (var k in extra) {
        if (k === 'axisLabel') {
            ax.axisLabel = Object.assign({}, tickFont, extra.axisLabel);
        } else {
            ax[k] = extra[k];
        }
    }
    return ax;
}

var chart = echarts.init(document.getElementById('chart'), null, { renderer: 'canvas' });

var option = {
    backgroundColor: '#fff',
    animation: false,
    grid: [
        { left: 73, right: 1, top: 12, bottom: 375, show: true, borderColor: '#000', borderWidth: 1.5 },
        { left: 70, right: 1, top: 347, bottom: 44, show: true, borderColor: '#000', borderWidth: 1.5 }
    ],
    xAxis: [
        valueAxis({ gridIndex: 0, min: 25, max: 50.7, interval: 1,
            axisLabel: { margin: 14, formatter: function (v) { return Math.round(v) === v && v % 5 === 0 ? String(v) : ''; } } }),
        valueAxis({ gridIndex: 1, min: -125, max: -60.5, interval: 2,
            axisLabel: { margin: 15, formatter: function (v) { return Math.round(v) === v && (v + 125) % 10 === 0 ? String(v) : ''; } } })
    ],
    yAxis: [
        valueAxis({ gridIndex: 0, min: 0, max: 370, interval: 10,
            axisLabel: { margin: 13, formatter: function (v) { return v % 30 === 0 ? String(v) : ''; } } }),
        valueAxis({ gridIndex: 1, min: 0, max: 370, interval: 5,
            axisLabel: { margin: 15, formatter: function (v) { return v % 30 === 0 ? String(v) : ''; } } })
    ],
    legend: [
        {
            orient: 'vertical', left: 672, top: 21, itemWidth: 10, itemHeight: 10, itemGap: 7,
            textStyle: { fontFamily: 'Lato', fontWeight: 'bold', fontSize: 15, color: '#222', lineHeight: 18, padding: [0, 0, 0, 12] },
            data: [
                { name: latNames[0], icon: crossPath },
                { name: latNames[1], icon: plusPath },
                { name: latNames[2], icon: smallDotPath }
            ]
        },
        {
            orient: 'vertical', left: 692, top: 356, itemWidth: 10, itemHeight: 10, itemGap: 10,
            textStyle: { fontFamily: 'Lato', fontWeight: 'bold', fontSize: 15, color: '#222', lineHeight: 18, padding: [0, 0, 0, 2] },
            data: [
                { name: lonNames[0], icon: starPath },
                { name: lonNames[1], icon: 'diamond', itemStyle: { color: 'rgba(0,0,0,0)', borderColor: colors[4], borderWidth: 2 } },
                { name: lonNames[2], icon: 'circle', itemStyle: { color: 'rgba(0,0,0,0)', borderColor: colors[5], borderWidth: 2 } }
            ]
        }
    ],
    graphic: [
        { type: 'text', x: 459, y: 334, style: { text: 'Latitude (degree)', font: 'bold 16px "Liberation Serif"', fill: '#111', textAlign: 'center', textVerticalAlign: 'middle' } },
        { type: 'text', x: 410, y: 663, style: { text: 'Longitude (degree)', font: 'bold 16px "Liberation Serif"', fill: '#111', textAlign: 'center', textVerticalAlign: 'middle' } },
        { type: 'text', x: 18, y: 159, rotation: Math.PI / 2, style: { text: 'Day of year', font: 'bold 16px "Liberation Serif"', fill: '#111', textAlign: 'center', textVerticalAlign: 'middle' } },
        { type: 'text', x: 16, y: 493, rotation: Math.PI / 2, style: { text: 'Day of year', font: 'bold 16px "Liberation Serif"', fill: '#111', textAlign: 'center', textVerticalAlign: 'middle' } },
        { type: 'text', x: 842, y: 36, style: { text: '(a)', font: 'bold 18px "Liberation Serif"', fill: '#111', textAlign: 'center', textVerticalAlign: 'middle' } },
        { type: 'text', x: 837, y: 371, style: { text: '(b)', font: 'bold 18px "Liberation Serif"', fill: '#111', textAlign: 'center', textVerticalAlign: 'middle' } }
    ],
    series: [
        { name: latNames[0], type: 'scatter', xAxisIndex: 0, yAxisIndex: 0, data: latW1085, symbol: crossPath, symbolSize: 7, clip: false,
          itemStyle: { color: colors[0] } },
        { name: latNames[1], type: 'scatter', xAxisIndex: 0, yAxisIndex: 0, data: latW910, symbol: plusPath, symbolSize: 7, clip: false,
          itemStyle: { color: colors[1] } },
        { name: latNames[2], type: 'scatter', xAxisIndex: 0, yAxisIndex: 0, data: latW815, symbol: 'circle', symbolSize: 4.5, clip: false,
          itemStyle: { color: colors[2] } },
        { name: lonNames[0], type: 'scatter', xAxisIndex: 1, yAxisIndex: 1, data: lonN450, symbol: starPath, symbolSize: 7.5, clip: false,
          itemStyle: { color: colors[3] } },
        { name: lonNames[1], type: 'scatter', xAxisIndex: 1, yAxisIndex: 1, data: lonN370, symbol: 'diamond', symbolSize: 6, clip: false,
          itemStyle: { color: 'rgba(0,0,0,0)', borderColor: colors[4], borderWidth: 1.2 } },
        { name: lonNames[2], type: 'scatter', xAxisIndex: 1, yAxisIndex: 1, data: lonN305, symbol: 'circle', symbolSize: 4.5, clip: false,
          itemStyle: { color: colors[5] } }
    ]
};

chart.setOption(option);
</script>
</body>
</html>
